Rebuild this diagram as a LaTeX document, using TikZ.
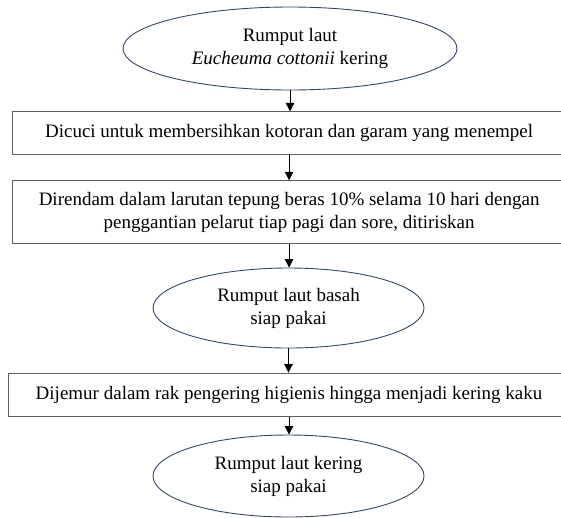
\documentclass[tikz,border=0pt]{standalone}
\usepackage{fontspec}
\setmainfont{Liberation Serif}
\usetikzlibrary{arrows.meta,shapes.geometric}
\definecolor{ovalline}{RGB}{52,72,102}
\definecolor{boxline}{RGB}{95,95,95}
\tikzset{
  % oval start / end states
  ovalnode/.style={ellipse, draw=ovalline, line width=0.9pt, fill=white,
    inner sep=0pt, align=center},
  % process step boxes
  procbox/.style={rectangle, draw=boxline, line width=1.1pt, fill=white,
    inner sep=0pt, align=center},
  % flow arrows
  flowln/.style={-{Triangle[length=8.5pt,width=8.5pt]}, line width=0.9pt, black},
}

\begin{document}
\begin{tikzpicture}[x=1pt, y=-1pt, font=\fontsize{19}{23}\selectfont]
    \useasboundingbox (0,0) rectangle (561,517);
    \clip (0,0) rectangle (561,517);
    % states and steps, top to bottom
    \node[ovalnode, minimum width=334pt, minimum height=83pt] (kering) at (290,48.5)
      {Rumput laut\\\textit{Eucheuma cottonii} kering};
    \node[procbox, minimum width=553pt, minimum height=43pt] (cuci) at (289.1,133.4)
      {Dicuci untuk membersihkan kotoran dan garam yang menempel};
    \node[procbox, minimum width=553pt, minimum height=63pt] (rendam) at (289.1,212.3)
      {Direndam dalam larutan tepung beras 10\% selama 10 hari dengan\\
       penggantian pelarut tiap pagi dan sore, ditiriskan};
    \node[ovalnode, minimum width=271pt, minimum height=80pt] (basah) at (288.5,308)
      {Rumput laut basah\\siap pakai};
    \node[procbox, minimum width=561pt, minimum height=43pt] (jemur) at (289,394.6)
      {Dijemur dalam rak pengering higienis hingga menjadi kering kaku};
    \node[ovalnode, minimum width=271pt, minimum height=82pt] (siap) at (288.5,476)
      {Rumput laut kering\\siap pakai};
    % flow arrows
    \draw[flowln] (kering.south) -- (kering.south |- cuci.north);
    \draw[flowln] (cuci.south) -- (cuci.south |- rendam.north);
    \draw[flowln] (rendam.south) -- (rendam.south |- basah.north);
    \draw[flowln] (basah.south) -- (basah.south |- jemur.north);
    \draw[flowln] (jemur.south) -- (jemur.south |- siap.north);
\end{tikzpicture}
\end{document}
